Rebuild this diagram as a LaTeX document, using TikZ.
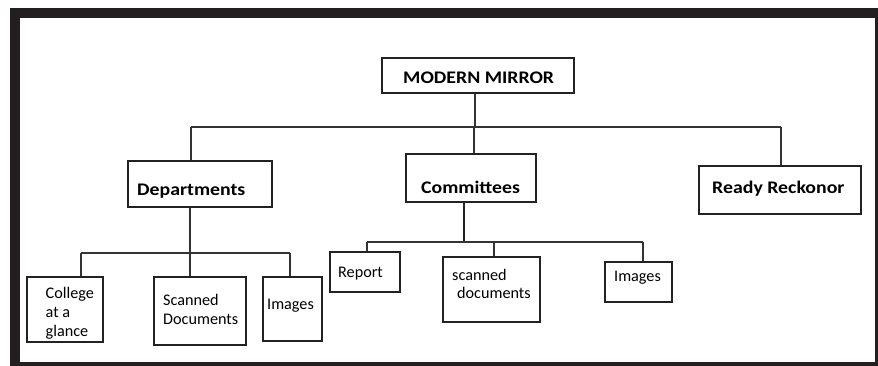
\documentclass[tikz,border=0pt]{standalone}
\usepackage{fontspec}
\setmainfont{Carlito}
\newfontfamily\bfam[FakeStretch=1.12]{Carlito}
\definecolor{framec}{HTML}{231F20}
\definecolor{boxc}{HTML}{222222}
\definecolor{linec}{HTML}{333333}
\tikzset{
  bx/.style={draw=boxc, line width=1.3pt, inner sep=0pt, rectangle, fill=white},
  conn/.style={draw=linec, line width=1.1pt},
  thickconn/.style={draw=boxc, line width=2.4pt},
  btxt/.style={font=\bfam\bfseries\fontsize{17.7}{21}\selectfont, inner sep=0pt, anchor=base west, text=black},
  rtxt/.style={font=\fontsize{16.2}{19.5}\selectfont, inner sep=0pt, anchor=base west, text=black},
}
\newcommand\mkbox[5]{%
  \node[bx, minimum width={(#4-#2)*1pt}, minimum height={(#5-#3)*1pt}] (#1) at ({(#2+#4)/2},{(#3+#5)/2}) {};}
\begin{document}
\begin{tikzpicture}[x=1pt,y=-1pt]
\useasboundingbox (0,0) rectangle (878,366);
\fill[white] (0,0) rectangle (878,366);
\fill[framec] (10,8) rectangle (878,366);
\fill[white] (20,18) rectangle (875,362);

% boxes
\mkbox{mm}{382}{58}{574}{93}
\mkbox{dep}{128}{161}{272}{207}
\mkbox{com}{406}{154}{536}{202}
\mkbox{rr}{699}{166}{861}{214}
\mkbox{col}{27}{277}{103}{342}
\mkbox{scd}{154}{277}{246}{345}
\mkbox{imga}{263}{277}{322}{341}
\mkbox{rep}{330}{252}{400}{292}
\mkbox{scn}{443}{257}{540}{322}
\mkbox{imgb}{605}{262}{672}{302}

% texts
\node[btxt] (tmm) at (403,83.5) {MODERN MIRROR};
\node[btxt] (tdep) at (137,195.5) {Departments};
\node[btxt] (tcom) at (421,194) {Committees};
\node[btxt] (trr) at (712,194) {Ready Reckonor};
\node[rtxt] (tcol1) at (45.5,298) {College};
\node[rtxt] (tcol2) at (45.5,317) {at a};
\node[rtxt] (tcol3) at (45.5,336) {glance};
\node[rtxt] (tscd1) at (163,305.5) {Scanned};
\node[rtxt] (tscd2) at (163,324) {Documents};
\node[rtxt] (timga) at (267,309) {Images};
\node[rtxt] (trep) at (338,277.5) {Report};
\node[rtxt] (tscn1) at (452,280) {scanned};
\node[rtxt] (tscn2) at (457,298.5) {documents};
\node[rtxt] (timgb) at (614,281) {Images};

% bus coordinates
\coordinate (mmv) at (475,127);
\coordinate (depv) at (191,127);
\coordinate (comv) at (474,127);
\coordinate (rrv) at (781,127);
\coordinate (depj) at (190,253);
\coordinate (colv) at (81,253);
\coordinate (imgav) at (290,253);
\coordinate (comj) at (464,242);
\coordinate (repv) at (367,242);
\coordinate (scnv) at (494,242);
\coordinate (imgbv) at (643,242);

% connectors
\draw[conn] (mm.south -| mmv) -- (mmv);
\draw[conn] (depv) -- (rrv);
\draw[conn] (depv) -- (depv |- dep.north);
\draw[conn] (comv) -- (comv |- com.north);
\draw[conn] (rrv) -- (rrv |- rr.north);

\draw[conn] (depj |- dep.south) -- (depj);
\draw[conn] (colv) -- (imgav);
\draw[conn] (colv) -- (colv |- col.north);
\draw[conn] (depj) -- (depj |- scd.north);
\draw[conn] (imgav) -- (imgav |- imga.north);

\draw[thickconn] (comj |- com.south) -- (comj);
\draw[conn] (repv) -- (imgbv);
\draw[conn] (repv) -- (repv |- rep.north);
\draw[conn] (scnv) -- (scnv |- scn.north);
\draw[conn] (imgbv) -- (imgbv |- imgb.north);
\end{tikzpicture}
\end{document}
